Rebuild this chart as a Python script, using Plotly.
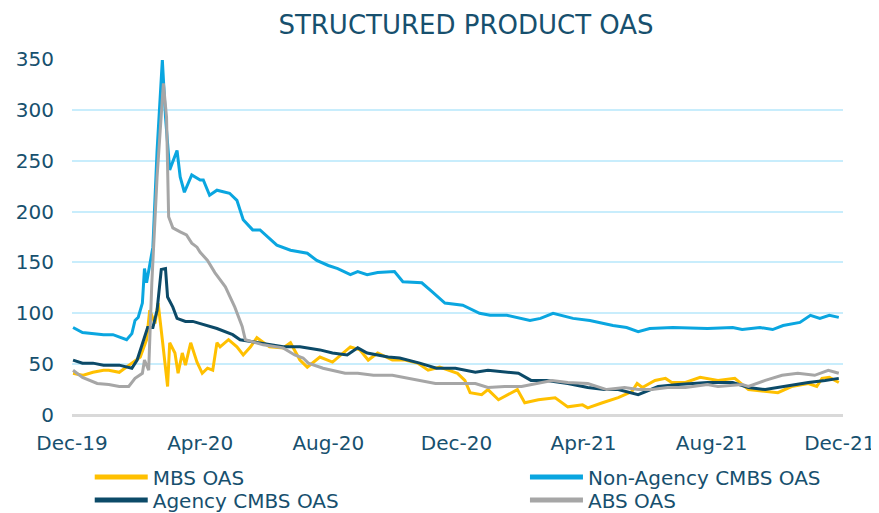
import plotly.graph_objects as go

# ---------------- data ----------------
mbs_dates = ["2019-12-02","2019-12-11","2019-12-21","2019-12-31","2020-01-05","2020-01-15","2020-01-27",
             "2020-02-04","2020-02-10","2020-02-13","2020-02-18","2020-02-21","2020-02-25","2020-02-28",
             "2020-03-01","2020-03-03","2020-03-08","2020-03-11","2020-03-15","2020-03-18","2020-03-23",
             "2020-03-29","2020-04-03","2020-04-08","2020-04-13","2020-04-17","2020-04-20","2020-04-28",
             "2020-05-06","2020-05-12","2020-05-19","2020-05-25","2020-06-06","2020-06-19","2020-06-26",
             "2020-07-05","2020-07-12","2020-07-24","2020-08-05","2020-08-22","2020-08-31","2020-09-08",
             "2020-09-17","2020-10-01","2020-10-13","2020-10-25","2020-11-04","2020-11-15","2020-12-02",
             "2020-12-09","2020-12-14","2020-12-25","2020-12-31","2021-01-10","2021-01-19","2021-01-28",
             "2021-02-04","2021-02-17","2021-03-05","2021-03-17","2021-03-31","2021-04-05","2021-04-19",
             "2021-05-04","2021-05-17","2021-05-22","2021-05-27","2021-06-08","2021-06-18","2021-06-24",
             "2021-07-07","2021-07-21","2021-08-07","2021-08-23","2021-09-05","2021-09-21","2021-10-03",
             "2021-10-16","2021-11-01","2021-11-09","2021-11-14","2021-11-21","2021-11-30"]
mbs_oas = [41,39,42,44,44,42,51,
           57,74,103,90,110,74,44,
           28,71,61,41,61,49,71,
           52,41,46,44,71,67,74,
           67,59,67,76,67,66,71,
           54,47,57,52,67,64,54,
           61,54,54,51,44,47,41,
           34,22,20,25,15,20,25,
           12,15,17,8,10,7,12,
           17,23,31,27,34,36,32,
           32,37,34,36,25,23,22,
           28,31,28,36,37,32]

nonagency_dates = ["2019-12-02","2019-12-11","2019-12-31","2020-01-09","2020-01-22","2020-01-27","2020-01-30",
                   "2020-02-02","2020-02-06","2020-02-08","2020-02-10","2020-02-14","2020-02-16","2020-02-20",
                   "2020-02-25","2020-02-28","2020-03-03","2020-03-10","2020-03-13","2020-03-17","2020-03-24",
                   "2020-04-01","2020-04-04","2020-04-10","2020-04-17","2020-04-29","2020-05-06","2020-05-12",
                   "2020-05-21","2020-05-28","2020-06-04","2020-06-13","2020-06-26","2020-07-12","2020-07-21",
                   "2020-08-01","2020-08-10","2020-08-22","2020-08-29","2020-09-07","2020-09-17","2020-10-03",
                   "2020-10-11","2020-10-29","2020-11-08","2020-11-20","2020-12-07","2020-12-23","2021-01-02",
                   "2021-01-18","2021-02-09","2021-02-19","2021-03-03","2021-03-22","2021-04-07","2021-04-29",
                   "2021-05-12","2021-05-23","2021-06-03","2021-06-25","2021-07-28","2021-08-21","2021-08-30",
                   "2021-09-16","2021-09-28","2021-10-08","2021-10-24","2021-11-03","2021-11-12","2021-11-21",
                   "2021-11-30"]
nonagency_oas = [86,81,79,79,74,80,93,
                 96,110,144,130,155,165,260,
                 349,293,241,260,234,219,236,
                 231,231,216,221,218,211,192,
                 182,182,175,167,162,159,152,
                 147,144,138,141,138,140,141,
                 131,130,121,110,108,100,98,
                 98,93,95,100,95,93,88,
                 86,82,85,86,85,86,84,
                 86,84,88,91,98,95,98,
                 96]

agency_dates = ["2019-12-02","2019-12-11","2019-12-21","2019-12-31","2020-01-15","2020-01-27","2020-02-01",
                "2020-02-06","2020-02-11","2020-02-16","2020-02-20","2020-02-24","2020-02-28","2020-03-01",
                "2020-03-06","2020-03-10","2020-03-18","2020-03-25","2020-04-01","2020-04-08","2020-04-17",
                "2020-05-02","2020-05-09","2020-05-21","2020-06-19","2020-07-05","2020-07-24","2020-08-05",
                "2020-08-19","2020-08-29","2020-09-07","2020-09-27","2020-10-08","2020-10-27","2020-11-12",
                "2020-11-30","2020-12-19","2020-12-31","2021-01-16","2021-01-29","2021-02-10","2021-02-25",
                "2021-03-17","2021-04-05","2021-04-21","2021-05-04","2021-05-23","2021-06-03","2021-06-11",
                "2021-06-30","2021-07-28","2021-08-21","2021-09-05","2021-09-21","2021-10-07","2021-11-01",
                "2021-11-17","2021-11-30"]
agency_oas = [54,51,51,49,49,46,54,
              71,86,86,103,143,144,116,
              106,95,92,92,90,88,85,
              79,74,72,67,67,64,61,
              59,66,61,57,56,51,46,
              46,42,44,42,41,34,34,
              31,27,25,25,20,25,28,
              30,32,32,27,25,28,32,
              34,36]

abs_dates = ["2019-12-02","2019-12-11","2019-12-25","2020-01-05","2020-01-15","2020-01-24","2020-01-30",
             "2020-02-06","2020-02-08","2020-02-12","2020-02-15","2020-02-18","2020-02-20","2020-02-26",
             "2020-02-29","2020-03-02","2020-03-06","2020-03-13","2020-03-19","2020-03-24","2020-03-29",
             "2020-04-01","2020-04-08","2020-04-15","2020-04-25","2020-05-04","2020-05-11","2020-05-14",
             "2020-05-31","2020-06-19","2020-06-30","2020-07-08","2020-07-13","2020-07-27","2020-08-05",
             "2020-08-17","2020-08-29","2020-09-13","2020-10-01","2020-10-25","2020-11-11","2020-12-02",
             "2020-12-19","2020-12-31","2021-01-16","2021-02-01","2021-02-17","2021-03-02","2021-03-17",
             "2021-04-05","2021-04-23","2021-05-10","2021-05-23","2021-06-05","2021-06-20","2021-07-07",
             "2021-07-28","2021-08-07","2021-08-30","2021-09-05","2021-09-21","2021-10-07","2021-10-22",
             "2021-11-07","2021-11-20","2021-11-30"]
abs_oas = [44,37,31,30,28,28,36,
           41,54,44,130,195,234,326,
           293,195,184,180,177,169,165,
           160,152,140,126,106,87,74,
           69,66,59,56,51,46,44,
           41,41,39,39,34,31,31,
           31,27,28,28,31,34,32,
           31,25,27,25,25,27,27,
           30,28,30,28,34,39,41,
           39,44,41]

series_names = ["MBS OAS", "Non-Agency CMBS OAS", "Agency CMBS OAS", "ABS OAS"]
series_colors = ["#FFC000", "#0AA6E0", "#0C4A68", "#A6A6A6"]
y_ticks = [0, 50, 100, 150, 200, 250, 300, 350]

# ---------------- figure ----------------
TXT = "#17506E"
FONT = "DejaVu Sans"
W, H = 871, 505   # page body has an 8px default margin

fig = go.Figure()
all_x = [mbs_dates, nonagency_dates, agency_dates, abs_dates]
all_y = [mbs_oas, nonagency_oas, agency_oas, abs_oas]
for xs, ys, name, col in zip(all_x, all_y, series_names, series_colors):
    fig.add_trace(go.Scatter(x=xs, y=ys, mode="lines", name=name, showlegend=False,
                             line=dict(color=col, width=3)))

legend_ids = ["legend", "legend2", "legend3", "legend4"]
for name, col, lid in zip(series_names, series_colors, legend_ids):
    fig.add_trace(go.Scatter(x=[None], y=[None], mode="lines", name=name, legend=lid,
                             line=dict(color=col, width=5)))

leg_common = dict(xanchor="left", yanchor="middle", bgcolor="rgba(0,0,0,0)",
                  font=dict(family=FONT, size=20, color=TXT), itemwidth=53)
fig.update_layout(
    width=W, height=H,
    margin=dict(l=64, r=36, t=51, b=98, autoexpand=False),
    paper_bgcolor="white", plot_bgcolor="white",
    title=dict(text="STRUCTURED PRODUCT OAS", x=458/W, xref="container", xanchor="center",
               y=1-17/H, yref="container", yanchor="middle",
               font=dict(family=FONT, size=26, color=TXT)),
    legend=dict(x=0.023, y=-0.174, **leg_common),
    legend2=dict(x=0.5875, y=-0.174, **leg_common),
    legend3=dict(x=0.023, y=-0.239, **leg_common),
    legend4=dict(x=0.5875, y=-0.239, **leg_common),
    xaxis=dict(type="date", range=["2019-12-01", "2021-12-04"], tick0="2019-12-01", dtick="M4",
               tickformat="%b-%y", showgrid=False, showline=False, zeroline=False,
               ticks="", ticklabelstandoff=14,
               tickfont=dict(family=FONT, size=20, color=TXT)),
    yaxis=dict(range=[0, 350], tickvals=y_ticks, showgrid=True, gridcolor="#C8EDFC", gridwidth=2,
               zeroline=True, zerolinecolor="#D9D9D9", zerolinewidth=2.5, showline=False,
               ticks="", ticklabelstandoff=17,
               tickfont=dict(family=FONT, size=20, color=TXT)),
    hovermode=False,
)

fig.write_html("out.html")
